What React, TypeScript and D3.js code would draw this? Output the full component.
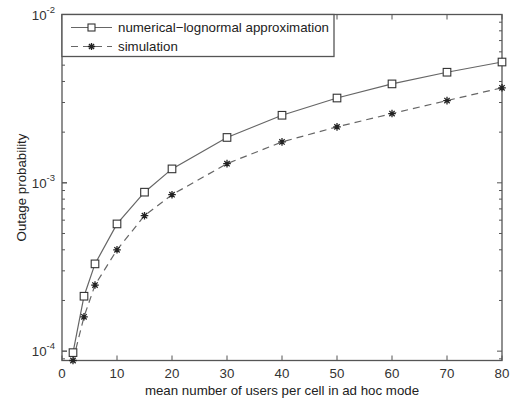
import React from "react";
import * as d3 from "d3";

// users per cell
const users = [2, 4, 6, 10, 15, 20, 30, 40, 50, 60, 70, 80];
// numerical-lognormal approximation
const approx = [9.8e-5, 2.12e-4, 3.3e-4, 5.7e-4, 8.8e-4, 1.21e-3, 1.86e-3, 2.52e-3, 3.19e-3, 3.87e-3, 4.54e-3, 5.22e-3];
// simulation
const sim = [8.8e-5, 1.6e-4, 2.47e-4, 4.0e-4, 6.38e-4, 8.5e-4, 1.3e-3, 1.75e-3, 2.15e-3, 2.58e-3, 3.08e-3, 3.67e-3];
const xTicks = [0, 10, 20, 30, 40, 50, 60, 70, 80];
const yDecades = [-4, -3, -2];

const W = 510;
const H = 400;
const margin = { top: 14.5, right: 8, bottom: 39.5, left: 62 };
const font = "Liberation Sans, Arial, sans-serif";
const fs = 13.3;
const axisCol = "#555";
const lineCol = "#666";

function Star({ x, y, r }: { x: number; y: number; r: number }) {
  const d = [0, 45, 90, 135]
    .map((a) => {
      const t = (a * Math.PI) / 180;
      const dx = r * Math.cos(t);
      const dy = r * Math.sin(t);
      return `M${x - dx},${y - dy}L${x + dx},${y + dy}`;
    })
    .join("");
  return <path d={d} stroke="#222" strokeWidth={1.3} />;
}

export default function App() {
  const iw = W - margin.left - margin.right;
  const ih = H - margin.top - margin.bottom;
  const x = d3.scaleLinear().domain([0, 80]).range([0, iw]);
  const y = d3.scaleLog().domain([8.8e-5, 1e-2]).range([ih, 0]);

  const line = d3
    .line<number>()
    .x((_, i) => x(users[i]))
    .y((d) => y(d));

  const minor: number[] = [];
  for (const e of [-5, -4, -3]) {
    for (let k = 1; k < 10; k++) {
      const v = k * Math.pow(10, e);
      if (v >= 8.8e-5 && v <= 1e-2) minor.push(v);
    }
  }

  return (
    <svg width={W} height={H} style={{ position: "absolute", left: 0, top: 0, background: "#fff" }}>
      <g transform={`translate(${margin.left},${margin.top})`} fontFamily={font}>
        {/* frame */}
        <rect x={0} y={0} width={iw} height={ih} fill="none" stroke={axisCol} strokeWidth={1.3} />

        {/* x ticks */}
        {xTicks.map((t) => (
          <g key={"x" + t}>
            <line x1={x(t)} x2={x(t)} y1={ih} y2={ih - 5} stroke={axisCol} />
            <line x1={x(t)} x2={x(t)} y1={0} y2={5} stroke={axisCol} />
            <text x={x(t)} y={ih + 17.5} textAnchor="middle" fontSize={fs} fill="#333">
              {t}
            </text>
          </g>
        ))}

        {/* y minor / major ticks */}
        {minor.map((v, i) => {
          const major = Math.abs(Math.log10(v) - Math.round(Math.log10(v))) < 1e-9;
          const len = major ? 5 : 3;
          return (
            <g key={"m" + i}>
              <line x1={0} x2={len} y1={y(v)} y2={y(v)} stroke={axisCol} />
              <line x1={iw} x2={iw - len} y1={y(v)} y2={y(v)} stroke={axisCol} />
            </g>
          );
        })}
        {yDecades.map((e) => (
          <g key={"y" + e}>
            <line x1={0} x2={5} y1={y(Math.pow(10, e))} y2={y(Math.pow(10, e))} stroke={axisCol} />
            <text x={-7} y={y(Math.pow(10, e)) + 5} textAnchor="end" fontSize={fs} fill="#333">
              10
              <tspan dy={-7} fontSize={9.5}>
                {e}
              </tspan>
            </text>
          </g>
        ))}

        {/* series */}
        <path d={line(approx) ?? ""} fill="none" stroke={lineCol} strokeWidth={1.2} />
        <path d={line(sim) ?? ""} fill="none" stroke={lineCol} strokeWidth={1.2} strokeDasharray="7,5" />
        {approx.map((v, i) => (
          <rect
            key={"s" + i}
            x={x(users[i]) - 3.8}
            y={y(v) - 3.8}
            width={7.6}
            height={7.6}
            fill="#fff"
            stroke="#333"
            strokeWidth={1.1}
          />
        ))}
        {sim.map((v, i) => (
          <Star key={"a" + i} x={x(users[i])} y={y(v)} r={3.8} />
        ))}

        {/* legend */}
        <g>
          <rect x={0} y={0} width={272} height={42} fill="#fff" stroke={axisCol} strokeWidth={1.3} />
          <line x1={9} x2={50} y1={13} y2={13} stroke={lineCol} strokeWidth={1.2} />
          <rect x={26} y={9.5} width={7} height={7} fill="#fff" stroke="#333" strokeWidth={1.1} />
          <text x={56} y={17.5} fontSize={fs} fill="#222">
            numerical−lognormal approximation
          </text>
          <line x1={9} x2={50} y1={32} y2={32} stroke={lineCol} strokeWidth={1.2} strokeDasharray="7,5" />
          <Star x={29.5} y={32} r={3.6} />
          <text x={56} y={36.5} fontSize={fs} fill="#222">
            simulation
          </text>
        </g>

        {/* axis labels */}
        <text x={iw / 2} y={ih + 34.5} textAnchor="middle" fontSize={fs} fill="#222">
          mean number of users per cell in ad hoc mode
        </text>
        <text
          transform={`translate(${-36},${ih / 2}) rotate(-90)`}
          textAnchor="middle"
          fontSize={fs}
          fill="#222"
        >
          Outage probability
        </text>
      </g>
    </svg>
  );
}
